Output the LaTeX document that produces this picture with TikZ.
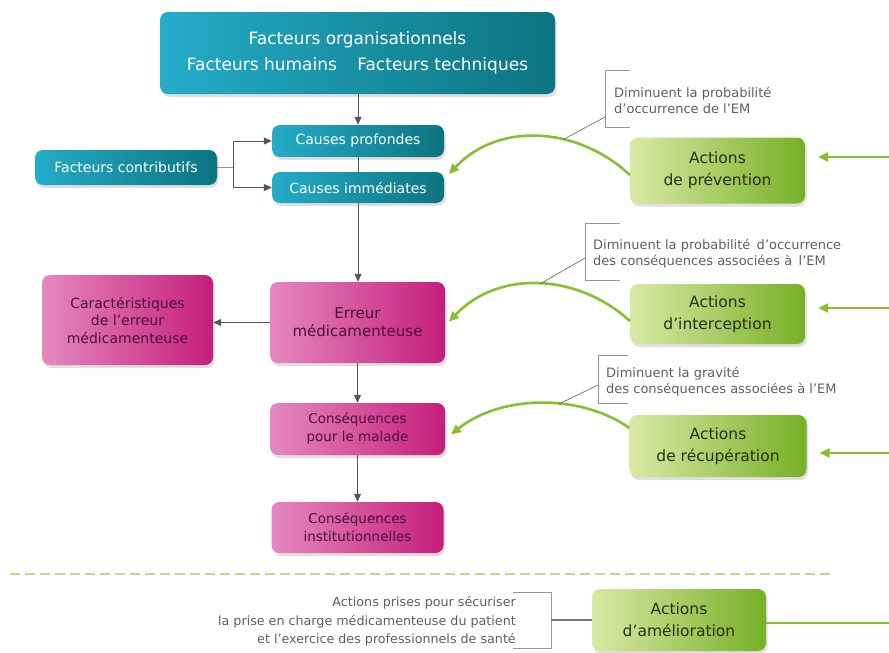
\documentclass[tikz,border=0pt]{standalone}
\usepackage{fontspec}
\setmainfont{DejaVu Sans}
\usetikzlibrary{arrows.meta,shadows,calc}
\definecolor{tealL}{RGB}{36,172,200}
\definecolor{tealR}{RGB}{12,116,128}
\definecolor{pinkL}{RGB}{228,136,192}
\definecolor{pinkR}{RGB}{198,30,122}
\definecolor{pinkT}{RGB}{78,12,56}
\definecolor{greenL}{RGB}{218,232,165}
\definecolor{greenR}{RGB}{118,176,38}
\definecolor{greenT}{RGB}{38,48,18}
\definecolor{greenLine}{RGB}{138,190,48}
\definecolor{dashGreen}{RGB}{200,216,130}
\definecolor{arrowGray}{RGB}{85,85,85}
\definecolor{noteGray}{RGB}{95,95,95}
\definecolor{bracketGray}{RGB}{150,150,150}
\tikzset{
  boxbase/.style={rectangle, rounded corners=8pt, draw=none, align=center, inner sep=0pt,
    drop shadow={shadow xshift=1.5pt, shadow yshift=-3pt, opacity=0.25}},
  tealbox/.style={boxbase, left color=tealL, right color=tealR, text=white},
  pinkbox/.style={boxbase, left color=pinkL, right color=pinkR, text=pinkT},
  greenbox/.style={boxbase, left color=greenL, right color=greenR, text=greenT},
  grayarrow/.style={draw=arrowGray, line width=1pt, -{Triangle[length=8pt,width=7pt]}},
  grayline/.style={draw=arrowGray, line width=1pt},
  lightline/.style={draw=bracketGray, line width=1pt},
  greencurve/.style={draw=greenLine, line width=2.6pt, -{Triangle[length=10pt,width=9pt]}},
  greenarrow/.style={draw=greenLine, line width=2.6pt, -{Triangle[length=10pt,width=9pt]}},
  greenplain/.style={draw=greenLine, line width=2.6pt},
  bracket/.style={draw=bracketGray, line width=0.7pt},
  diag/.style={draw=noteGray, line width=0.6pt},
  note/.style={inner sep=0pt, text=noteGray, align=left, font=\fontsize{13}{16}\selectfont},
}
\begin{document}
\begin{tikzpicture}[x=1pt,y=-1pt]
\useasboundingbox (0,0) rectangle (889,653);
\fill[white] (0,0) rectangle (889,653);

% --- teal boxes
\node[tealbox, minimum width=395pt, minimum height=82pt,
      font=\fontsize{17}{26}\selectfont] (top) at (357.5,53)
  {Facteurs organisationnels\\Facteurs humains\hspace{1.2em}Facteurs techniques};
\node[tealbox, minimum width=172pt, minimum height=32pt,
      font=\fontsize{14}{17}\selectfont] (cp) at (358,141) {Causes profondes};
\node[tealbox, minimum width=172pt, minimum height=31pt,
      font=\fontsize{14}{17}\selectfont] (ci) at (358,187.5) {Causes immédiates};
\node[tealbox, minimum width=182pt, minimum height=35pt,
      font=\fontsize{14}{17}\selectfont] (fc) at (126,167.5) {Facteurs contributifs};

% --- pink boxes
\node[pinkbox, minimum width=175pt, minimum height=81pt,
      font=\fontsize{15}{18}\selectfont] (em) at (357.5,322.5) {Erreur\\médicamenteuse};
\node[pinkbox, minimum width=171pt, minimum height=90pt,
      font=\fontsize{14}{17.5}\selectfont] (car) at (127.5,320) {Caractéristiques\\de l’erreur\\médicamenteuse};
\node[pinkbox, minimum width=175pt, minimum height=52pt,
      font=\fontsize{13.5}{18}\selectfont] (cm) at (357.5,429) {Conséquences\\pour le malade};
\node[pinkbox, minimum width=172pt, minimum height=51pt,
      font=\fontsize{13.5}{18}\selectfont] (cinst) at (357.5,527.5) {Conséquences\\institutionnelles};

% --- green boxes
\node[greenbox, minimum width=175pt, minimum height=66pt,
      font=\fontsize{15.5}{22}\selectfont] (prev) at (717.5,170.5) {Actions\\de prévention};
\node[greenbox, minimum width=175pt, minimum height=60pt,
      font=\fontsize{15.5}{22}\selectfont] (inter) at (717.5,314) {Actions\\d’interception};
\node[greenbox, minimum width=177pt, minimum height=62pt,
      font=\fontsize{15.5}{22}\selectfont] (recup) at (718,446) {Actions\\de récupération};
\node[greenbox, minimum width=174pt, minimum height=62pt,
      font=\fontsize{15.5}{22}\selectfont] (amel) at (679,620) {Actions\\d’amélioration};

% --- gray connectors
\draw[grayarrow] (top.south -| cp.north) -- (cp.north);
\draw[grayline] (cp.south) -- (ci.north);
\draw[grayarrow] (ci.south) -- (ci.south |- em.north);
\draw[grayarrow] (em.west) -- (em.west -| car.east);
\draw[grayarrow] (em.south) -- (cm.north);
\draw[grayarrow] (cm.south) -- (cinst.north);
\draw[lightline] (fc.east) -- ++(16,0) coordinate (fj);
\draw[grayline] (fj |- cp.west) -- (fj |- ci.west);
\draw[grayarrow] (fj |- cp.west) -- (cp.west);
\draw[grayarrow] (fj |- ci.west) -- (ci.west);

% --- green curves
\draw[greencurve, shorten >=1pt] ($(prev.west)+(0,4.5)$) .. controls (580,128) and (500,120) ..
  coordinate[pos=0.38] (k1) ($(ci.north east)+(4,3)$);
\draw[greencurve, shorten >=1pt] ($(inter.west)+(0,7)$) .. controls (580,275) and (500,268) ..
  coordinate[pos=0.5] (k2) ($(em.east)+(3,0)$);
\draw[greencurve, shorten >=1pt] ($(recup.west)+(0,-18)$) .. controls (585,396) and (505,392) ..
  coordinate[pos=0.42] (k3) ($(cm.east)+(5,6)$);

% --- right incoming arrows
\coordinate (r1) at (889,157);
\coordinate (r2) at (889,308);
\coordinate (r3) at (889,453);
\coordinate (r4) at (889,623);
\draw[greenarrow, shorten >=13pt] (r1) -- (r1 -| prev.east);
\draw[greenarrow, shorten >=13pt] (r2) -- (r2 -| inter.east);
\draw[greenarrow, shorten >=13pt] (r3) -- (r3 -| recup.east);
\draw[greenplain] (r4) -- (r4 -| amel.east);

% --- annotations
\node[note, anchor=west] (n1) at (614,100) {Diminuent la probabilité\\d’occurrence de l’EM};
\coordinate (b1t) at (605,70);
\coordinate (b1b) at (605,127);
\coordinate (b1d) at (605,117);
\draw[bracket] ([xshift=25pt]b1t) -- (b1t) -- (b1b) -- ([xshift=25pt]b1b);
\draw[diag] (b1d) -- (k1);

\node[note, anchor=west] (n2) at (593,253.5) {Diminuent la probabilité\, d’occurrence\\des conséquences associées à\, l’EM};
\coordinate (b2t) at (585,223);
\coordinate (b2b) at (585,280);
\coordinate (b2d) at (585,258);
\draw[bracket] ([xshift=35pt]b2t) -- (b2t) -- (b2b) -- ([xshift=35pt]b2b);
\draw[diag] (b2d) -- (k2);

\node[note, anchor=west] (n3) at (606,381.5) {Diminuent la gravité\\des conséquences associées à l’EM};
\coordinate (b3t) at (598,355);
\coordinate (b3b) at (598,403);
\coordinate (b3d) at (598,385);
\draw[bracket] ([xshift=30pt]b3t) -- (b3t) -- (b3b) -- ([xshift=30pt]b3b);
\draw[diag] (b3d) -- (k3);

% --- dashed separator
\coordinate (d1) at (10,574);
\coordinate (d2) at (830,574);
\draw[draw=dashGreen, line width=2.5pt, dash pattern=on 10pt off 5pt] (d1) -- (d2);

% --- bottom annotation
\node[inner sep=0pt, text=noteGray, align=right, anchor=east,
      font=\fontsize{12.7}{18.5}\selectfont] (n4) at (516,621.5)
  {Actions prises pour sécuriser\\la prise en charge médicamenteuse du patient\\et l’exercice des professionnels de santé};
\coordinate (b4t) at (551,592);
\coordinate (b4b) at (551,648);
\coordinate (b4m) at (551,620);
\draw[bracket] ([xshift=-38pt]b4t) -- (b4t) -- (b4b) -- ([xshift=-38pt]b4b);
\draw[draw=arrowGray!80, line width=1.6pt] (b4m) -- (amel.west);
\end{tikzpicture}
\end{document}
